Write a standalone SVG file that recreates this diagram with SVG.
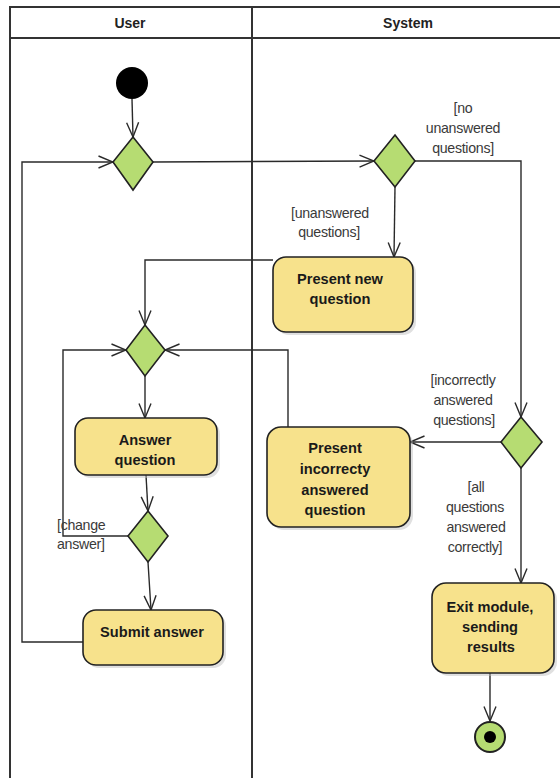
<svg xmlns="http://www.w3.org/2000/svg" width="560" height="778" viewBox="0 0 560 778">
<style>
.frame{fill:none;stroke:#333;stroke-width:2}
.hdr{font-family:"Liberation Sans",Arial,sans-serif;font-size:14px;font-weight:bold;fill:#222;text-anchor:middle}
.box{fill:#f7e28c;stroke:#222;stroke-width:1.6}
.shadow{fill:#bbb;opacity:.45}
.dia{fill:#b6dc72;stroke:#222;stroke-width:1.6}
.lbl{font-family:"Liberation Sans",Arial,sans-serif;font-size:14.6px;font-weight:bold;fill:#1a1a1a;text-anchor:middle}
.grd{font-family:"Liberation Sans",Arial,sans-serif;font-size:14.2px;fill:#3a3a3a;text-anchor:middle;letter-spacing:-0.3px}
.edge{fill:none;stroke:#2a2a2a;stroke-width:1.4}
</style>
<defs>
<marker id="arr" viewBox="0 0 16 14" refX="15.5" refY="7" markerWidth="16" markerHeight="14" markerUnits="userSpaceOnUse" orient="auto">
<path d="M1,1 L15.5,7 L1,13" fill="none" stroke="#2a2a2a" stroke-width="1.4"/>
</marker>
</defs>
<g id="swimlanes">
<path class="frame" d="M10,778 L10,7 L562,7 M10,38 L562,38 M252,7 L252,778"/>
<text class="hdr" x="130" y="28">User</text>
<text class="hdr" x="408" y="28">System</text>
</g>
<g id="connectors">
<path class="edge" d="M132,99 L133,137" marker-end="url(#arr)"/>
<path class="edge" d="M83,642 L22,642 L22,162 L113,162" marker-end="url(#arr)"/>
<path class="edge" d="M153,162 L374,161" marker-end="url(#arr)"/>
<path class="edge" d="M415,161 L521,161 L521,417" marker-end="url(#arr)"/>
<path class="edge" d="M395,187 L394,257" marker-end="url(#arr)"/>
<path class="edge" d="M273,260 L145,260 L145,325" marker-end="url(#arr)"/>
<path class="edge" d="M145,376 L145,418" marker-end="url(#arr)"/>
<path class="edge" d="M146,475 L148,511" marker-end="url(#arr)"/>
<path class="edge" d="M128,536 L63,536 L63,350 L126,350" marker-end="url(#arr)"/>
<path class="edge" d="M148,562 L151,610" marker-end="url(#arr)"/>
<path class="edge" d="M288,427 L288,350 L165,350" marker-end="url(#arr)"/>
<path class="edge" d="M501,442 L410,442" marker-end="url(#arr)"/>
<path class="edge" d="M521,468 L521,583" marker-end="url(#arr)"/>
<path class="edge" d="M490,673 L490,721" marker-end="url(#arr)"/>
<text class="grd" x="463" y="113">[no</text>
<text class="grd" x="463" y="133">unanswered</text>
<text class="grd" x="463" y="153">questions]</text>
<text class="grd" x="330" y="218">[unanswered</text>
<text class="grd" x="329" y="237">questions]</text>
<text class="grd" x="463" y="385">[incorrectly</text>
<text class="grd" x="463" y="405">answered</text>
<text class="grd" x="464" y="425">questions]</text>
<text class="grd" x="476" y="492">[all</text>
<text class="grd" x="475" y="512">questions</text>
<text class="grd" x="476" y="532">answered</text>
<text class="grd" x="475" y="552">correctly]</text>
<text class="grd" x="57" y="530" style="text-anchor:start">[change</text>
<text class="grd" x="57" y="549" style="text-anchor:start">answer]</text>
</g>
<g id="start">
<circle cx="132" cy="83" r="16" fill="#000"/>
</g>
<g id="merge1">
<polygon class="dia" points="133,137 153,162 133,190 113,162"/>
</g>
<g id="decision_questions">
<polygon class="dia" points="395,135 415,161 395,187 374,161"/>
</g>
<g id="present_new_question">
<rect class="shadow" x="276" y="260" width="140" height="75" rx="13"/>
<rect class="box" x="273" y="257" width="140" height="75" rx="13"/>
<text class="lbl" x="340" y="284">Present new</text>
<text class="lbl" x="340" y="304">question</text>
</g>
<g id="merge2">
<polygon class="dia" points="145,325 165,350 145,376 126,350"/>
</g>
<g id="answer_question">
<rect class="shadow" x="78" y="421" width="142" height="57" rx="13"/>
<rect class="box" x="75" y="418" width="142" height="57" rx="13"/>
<text class="lbl" x="145" y="445">Answer</text>
<text class="lbl" x="145" y="465">question</text>
</g>
<g id="decision_change">
<polygon class="dia" points="148,511 168,536 148,562 128,536"/>
</g>
<g id="submit_answer">
<rect class="shadow" x="86" y="613" width="140" height="55" rx="13"/>
<rect class="box" x="83" y="610" width="140" height="55" rx="13"/>
<text class="lbl" x="152" y="637">Submit answer</text>
</g>
<g id="decision_correct">
<polygon class="dia" points="521,417 542,442 521,468 501,442"/>
</g>
<g id="present_incorrect">
<rect class="shadow" x="270" y="430" width="143" height="100" rx="14"/>
<rect class="box" x="267" y="427" width="143" height="100" rx="14"/>
<text class="lbl" x="335" y="453">Present</text>
<text class="lbl" x="335" y="474">incorrecty</text>
<text class="lbl" x="335" y="495">answered</text>
<text class="lbl" x="335" y="515">question</text>
</g>
<g id="exit_module">
<rect class="shadow" x="435" y="586" width="122" height="90" rx="14"/>
<rect class="box" x="432" y="583" width="122" height="90" rx="14"/>
<text class="lbl" x="490" y="612">Exit module,</text>
<text class="lbl" x="490" y="632">sending</text>
<text class="lbl" x="491" y="652">results</text>
</g>
<g id="end">
<circle cx="490" cy="737" r="15" fill="#b6dc72" stroke="#222" stroke-width="2"/>
<circle cx="490" cy="737" r="6" fill="#000"/>
</g>
</svg>
